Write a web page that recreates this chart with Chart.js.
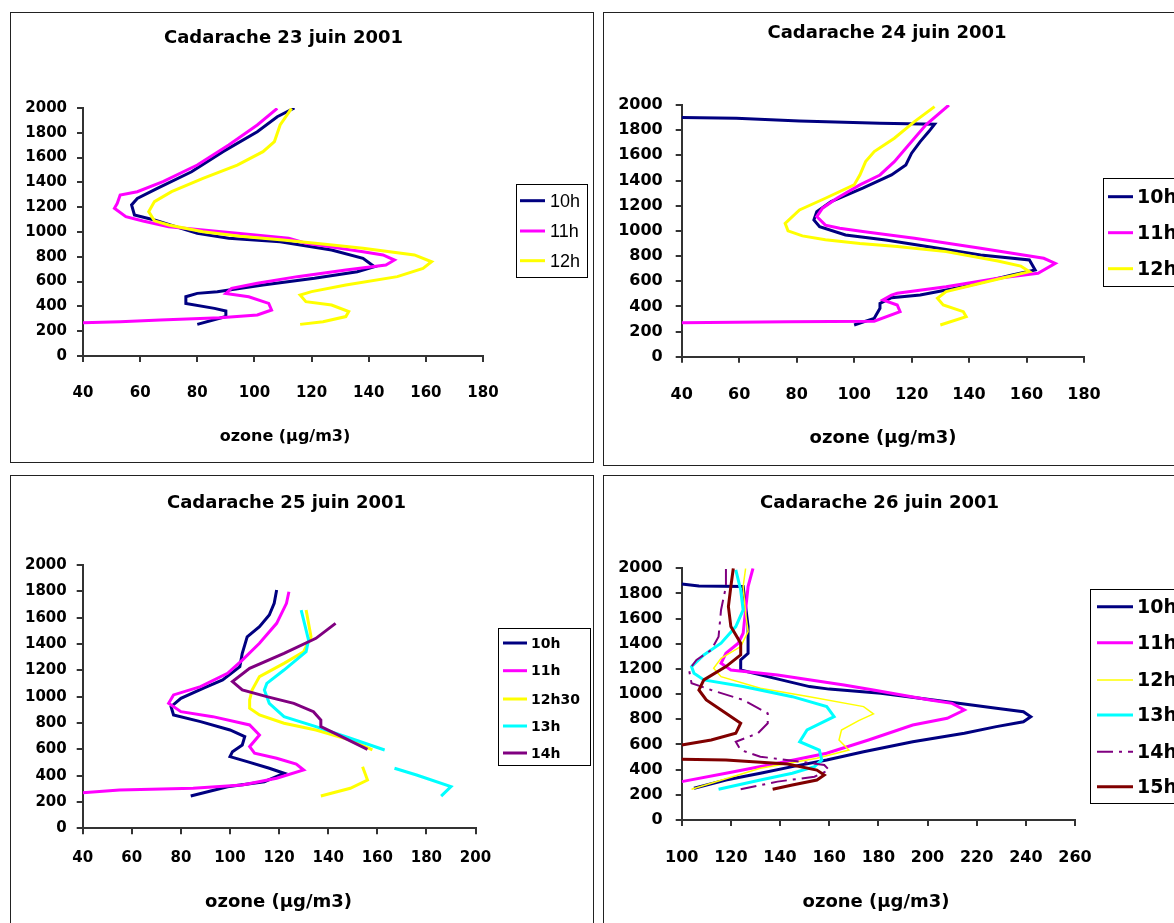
<!DOCTYPE html>
<html>
<head>
<meta charset="utf-8">
<script src="https://cdn.jsdelivr.net/npm/chart.js@4.4.0/dist/chart.umd.min.js"></script>
<style>
  html, body { margin: 0; padding: 0; background: #fff; width: 1174px; height: 923px; overflow: hidden; }
  .panel { position: absolute; border: 1px solid #222; background: #fff; }
  .panel canvas { position: absolute; left: 0; top: 0; }
</style>
</head>
<body>
<script>
// ozone (µg/m3), altitude (m) pairs; null = gap in the profile

// 23 juin 2001
const hours23 = ["10h", "11h", "12h"];
const o23_10h = [[80,255],[90,318],[90,363],[86,384],[76,424],[76,478],[80,505],[87,519],[103,573],[121,627],[136,680],[142,720],[138,788],[127,855],[109,922],[91,949],[80,989],[65,1097],[58,1137],[57,1218],[59,1271],[66,1352],[78,1486],[89,1648],[101,1809],[108,1930],[114,2000]];
const o23_11h = [[40,269],[53,277],[67,290],[88,309],[101,331],[106,371],[105,424],[98,478],[90,505],[92,546],[101,586],[115,640],[132,694],[146,734],[149,774],[145,815],[138,841],[126,882],[118,909],[112,949],[94,989],[82,1016],[70,1043],[61,1089],[55,1124],[51,1191],[52,1231],[53,1298],[59,1325],[68,1406],[80,1540],[91,1702],[101,1863],[108,1997]];
const o23_12h = [[116,255],[124,277],[132,318],[133,358],[127,411],[118,438],[116,492],[120,519],[132,573],[150,640],[159,707],[162,760],[156,815],[138,869],[123,905],[110,935],[95,965],[82,1002],[70,1056],[65,1090],[63,1164],[65,1245],[71,1325],[82,1433],[94,1540],[103,1648],[107,1729],[109,1863],[113,1997]];

// 24 juin 2001
const hours24 = ["10h", "11h", "12h"];
const o24_10h = [[100,252],[107,305],[109,385],[109,424],[113,469],[123,490],[138,556],[155,649],[163,689],[161,769],[144,808],[126,874],[111,928],[97,967],[88,1033],[86,1087],[87,1153],[92,1232],[103,1339],[113,1444],[118,1524],[120,1617],[123,1709],[126,1789],[128,1847],[109,1855],[81,1873],[59,1895],[40,1900]];
const o24_11h = [[40,270],[77,278],[107,282],[116,358],[115,411],[110,451],[113,490],[115,504],[132,556],[150,623],[164,663],[170,742],[166,782],[144,862],[121,941],[103,994],[95,1020],[90,1045],[87,1113],[89,1180],[94,1259],[102,1365],[109,1444],[114,1550],[118,1656],[125,1842],[133,2000]];
const o24_12h = [[130,252],[139,318],[138,358],[131,411],[129,464],[132,517],[144,583],[161,676],[158,720],[150,760],[132,835],[115,875],[102,900],[90,930],[82,960],[77,1000],[76,1060],[81,1166],[90,1259],[100,1365],[102,1444],[104,1550],[107,1630],[114,1736],[121,1868],[128,1987]];

// 25 juin 2001
const hours25 = ["10h", "11h", "12h30", "13h", "14h"];
const o25_10h = [[84,245],[99,316],[114,354],[122,418],[116,456],[107,506],[100,544],[101,582],[105,633],[106,696],[100,747],[88,810],[77,861],[76,924],[80,987],[89,1063],[97,1127],[104,1228],[105,1329],[107,1455],[112,1531],[116,1620],[118,1709],[119,1810]];
const o25_11h = [[40,270],[55,291],[85,304],[105,329],[119,380],[130,443],[127,488],[119,532],[110,570],[108,620],[112,709],[108,785],[93,848],[80,886],[75,949],[77,1013],[88,1076],[99,1177],[105,1278],[112,1405],[119,1557],[123,1709],[124,1797]];
const o25_12h30 = [[137,245],[149,304],[156,367],[154,468],null,[158,595],[149,671],[135,747],[122,798],[112,861],[108,912],[108,975],[109,1051],[112,1152],[122,1253],[130,1341],[133,1455],[131,1658]];
const o25_13h = [[186,245],[190,316],[176,405],[167,456],null,[163,595],[149,684],[135,772],[122,848],[116,949],[114,1051],[115,1101],[122,1202],[131,1341],[132,1430],[129,1658]];
const o25_14h = [[156,600],[144,709],[137,772],[137,823],[134,886],[126,949],[115,1000],[105,1051],[101,1114],[108,1215],[122,1329],[135,1443],[143,1557]];

// 26 juin 2001
const hours26 = ["10h", "11h", "12h", "13h", "14h", "15h"];
const o26_10h = [[105,252],[118,318],[132,371],[145,424],[159,477],[174,543],[194,622],[215,689],[228,742],[239,781],[242,821],[239,861],[228,888],[208,940],[181,1007],[160,1040],[152,1060],[132,1153],[124,1192],[124,1272],[127,1325],[127,1537],[126,1700],[125,1855],[107,1860],[100,1876]];
const o26_11h = [[100,305],[118,371],[139,451],[159,530],[176,636],[194,755],[208,808],[215,874],[210,927],[201,954],[178,1033],[166,1073],[139,1153],[120,1192],[116,1245],[118,1325],[123,1405],[125,1484],[126,1669],[127,1855],[129,2000]];
const o26_12h = [[104,244],[132,411],[155,490],[168,556],[164,636],[165,715],[172,790],[178,843],[174,901],[152,980],[132,1047],[116,1139],[113,1206],[116,1285],[124,1378],[127,1497],[126,1643],[125,1855],[126,2000]];
const o26_13h = [[115,244],[132,318],[145,371],[154,424],[157,477],[156,556],[148,622],[151,715],[162,821],[159,901],[145,980],[125,1060],[109,1113],[105,1166],[104,1219],[109,1312],[116,1405],[122,1537],[125,1669],[124,1828],[122,1987]];
const o26_14h = [[124,244],[139,305],[154,344],[160,397],[158,437],[148,464],[132,503],[124,556],[122,622],[131,689],[135,769],[135,848],[125,954],[112,1033],[104,1087],[103,1192],[106,1272],[112,1351],[115,1457],[116,1669],[118,1855],[118,2000]];
const o26_15h = [[137,244],[145,278],[155,318],[158,358],[155,397],[143,445],[118,477],[100,482],null,[100,596],[112,636],[122,689],[124,769],[118,848],[110,954],[107,1033],[109,1113],[118,1219],[124,1312],[124,1405],[120,1537],[119,1696],[120,1855],[121,2000]];

const altTicks = { min: 0, max: 2000, step: 200 };
const axisTitle = "ozone (µg/m3)";

const COLORS = {
  "10h": "#000080", "11h": "#ff00ff", "12h": "#ffff00", "12h30": "#ffff00",
  "13h": "#00ffff", "14h": "#800080", "15h": "#800000"
};

const panels = [
  {
    title: "Cadarache 23 juin 2001", hours: hours23, values: [o23_10h, o23_11h, o23_12h],
    xMin: 40, xMax: 180,
    box: { x: 10, y: 12, w: 584, h: 451 },
    area: { l: 83, t: 108, r: 483, b: 356 },
    tickSize: 15, xPad: 22, yPad: 10,
    titlePos: [283.5, 38], titleFont: "bold 18px 'DejaVu Sans'",
    axisPos: [285, 437], axisFont: "bold 16px 'DejaVu Sans'",
    legend: { x: 516, y: 184, w: 71, h: 93, rows: [200.7, 231, 260.7], l0: 520, l1: 545, tx: 550, font: "18px 'Liberation Sans'" }
  },
  {
    title: "Cadarache 24 juin 2001", hours: hours24, values: [o24_10h, o24_11h, o24_12h],
    xMin: 40, xMax: 180,
    box: { x: 603, y: 12, w: 580, h: 454 },
    area: { l: 681.7, t: 105, r: 1084, b: 356.7 },
    tickSize: 16, xPad: 23, yPad: 13,
    titlePos: [887, 33], titleFont: "bold 18px 'DejaVu Sans'",
    axisPos: [883, 438], axisFont: "bold 18px 'DejaVu Sans'",
    legend: { x: 1103, y: 178, w: 100, h: 108, rows: [196.7, 232.7, 268.7], l0: 1108, l1: 1133, tx: 1137, font: "bold 19px 'DejaVu Sans'" }
  },
  {
    title: "Cadarache 25 juin 2001", hours: hours25, values: [o25_10h, o25_11h, o25_12h30, o25_13h, o25_14h],
    xMin: 40, xMax: 200,
    box: { x: 10, y: 475, w: 584, h: 460 },
    area: { l: 82.7, t: 565, r: 475.5, b: 828.3 },
    tickSize: 15, xPad: 15, yPad: 10,
    titlePos: [286.5, 503], titleFont: "bold 18px 'DejaVu Sans'",
    axisPos: [278.5, 902], axisFont: "bold 18px 'DejaVu Sans'",
    legend: { x: 498, y: 628, w: 92, h: 137, rows: [643, 670.7, 699, 726, 753], l0: 503, l1: 527, tx: 531, font: "bold 14px 'DejaVu Sans'" }
  },
  {
    title: "Cadarache 26 juin 2001", hours: hours26, values: [o26_10h, o26_11h, o26_12h, o26_13h, o26_14h, o26_15h],
    xMin: 100, xMax: 260,
    box: { x: 603, y: 475, w: 580, h: 460 },
    area: { l: 681.7, t: 568.3, r: 1075, b: 820 },
    tickSize: 16, xPad: 22, yPad: 13,
    widths: [3, 3, 1.5, 3, 2, 3],
    dashes: [null, null, null, null, [16, 6, 3, 6], null],
    titlePos: [879.5, 503], titleFont: "bold 18px 'DejaVu Sans'",
    axisPos: [876, 902], axisFont: "bold 18px 'DejaVu Sans'",
    legend: { x: 1090, y: 589, w: 100, h: 214, rows: [606.7, 642.7, 680, 715, 751.7, 786.7], l0: 1097, l1: 1133, tx: 1137, font: "bold 19px 'DejaVu Sans'" }
  }
];

function toPoints(arr) {
  return arr.map(p => p ? { x: p[0], y: p[1] } : { x: null, y: null });
}

function buildPanel(cfg) {
  const cw = cfg.box.w - 2, ch = cfg.box.h - 2;
  const ox = cfg.box.x + 1, oy = cfg.box.y + 1;

  const wrap = document.createElement("div");
  wrap.className = "panel";
  wrap.style.left = cfg.box.x + "px";
  wrap.style.top = cfg.box.y + "px";
  wrap.style.width = cw + "px";
  wrap.style.height = ch + "px";
  const cv = document.createElement("canvas");
  cv.width = cw; cv.height = ch;
  cv.style.width = cw + "px"; cv.style.height = ch + "px";
  wrap.appendChild(cv);
  document.body.appendChild(wrap);

  // y-axis box must be wide enough: tick labels are clipped to it
  const YW = 70, XH = 50;
  const a = cfg.area;

  const datasets = cfg.hours.map((h, i) => ({
    label: h,
    data: toPoints(cfg.values[i]),
    borderColor: COLORS[h],
    backgroundColor: COLORS[h],
    borderWidth: cfg.widths ? cfg.widths[i] : 3,
    borderDash: (cfg.dashes && cfg.dashes[i]) || [],
    showLine: true,
    pointRadius: 0,
    tension: 0,
    fill: false,
    order: -i
  }));

  // title, axis title and boxed legend, drawn in page coordinates
  const textPlugin = {
    id: "panelText",
    afterDraw(chart) {
      const ctx = chart.ctx;
      ctx.save();
      ctx.fillStyle = "#000";
      ctx.textAlign = "center";
      ctx.textBaseline = "middle";
      ctx.font = cfg.titleFont;
      ctx.fillText(cfg.title, cfg.titlePos[0] - ox, cfg.titlePos[1] - oy);
      ctx.font = cfg.axisFont;
      ctx.fillText(axisTitle, cfg.axisPos[0] - ox, cfg.axisPos[1] - oy);

      const lg = cfg.legend;
      ctx.strokeStyle = "#000";
      ctx.lineWidth = 1;
      ctx.strokeRect(Math.round(lg.x - ox) + 0.5, Math.round(lg.y - oy) + 0.5, lg.w, lg.h);
      ctx.textAlign = "left";
      ctx.font = lg.font;
      chart.data.datasets.forEach((ds, i) => {
        const y = lg.rows[i] - oy;
        ctx.strokeStyle = ds.borderColor;
        ctx.lineWidth = ds.borderWidth;
        ctx.setLineDash(ds.borderDash || []);
        ctx.beginPath();
        ctx.moveTo(lg.l0 - ox, y);
        ctx.lineTo(lg.l1 - ox, y);
        ctx.stroke();
        ctx.setLineDash([]);
        ctx.fillText(ds.label, lg.tx - ox, y + 1);
      });
      ctx.restore();
    }
  };

  const tickFont = { family: "DejaVu Sans", weight: "bold", size: cfg.tickSize };
  const plain = v => String(v);

  new Chart(cv, {
    type: "scatter",
    data: { datasets },
    options: {
      responsive: false,
      animation: false,
      events: [],
      layout: {
        padding: { left: a.l - ox - YW, top: a.t - oy, right: ox + cw - a.r, bottom: oy + ch - a.b - XH }
      },
      plugins: { legend: { display: false }, tooltip: { enabled: false } },
      scales: {
        x: {
          type: "linear", position: "bottom",
          min: cfg.xMin, max: cfg.xMax,
          afterFit(s) { s.height = XH; s.paddingLeft = 0; s.paddingRight = 0; },
          border: { display: true, color: "#333", width: 2 },
          grid: { drawOnChartArea: false, drawTicks: true, tickLength: 6, color: "#333", lineWidth: 2 },
          ticks: { stepSize: 20, autoSkip: false, maxRotation: 0, padding: cfg.xPad, color: "#000", font: tickFont, callback: plain }
        },
        y: {
          type: "linear", position: "left",
          min: altTicks.min, max: altTicks.max,
          afterFit(s) { s.width = YW; s.paddingTop = 0; s.paddingBottom = 0; },
          border: { display: true, color: "#333", width: 2 },
          grid: { drawOnChartArea: false, drawTicks: true, tickLength: 6, color: "#333", lineWidth: 2 },
          ticks: { stepSize: altTicks.step, autoSkip: false, padding: cfg.yPad, color: "#000", font: tickFont, callback: plain }
        }
      }
    },
    plugins: [textPlugin]
  });
}

panels.forEach(buildPanel);
</script>
</body>
</html>
